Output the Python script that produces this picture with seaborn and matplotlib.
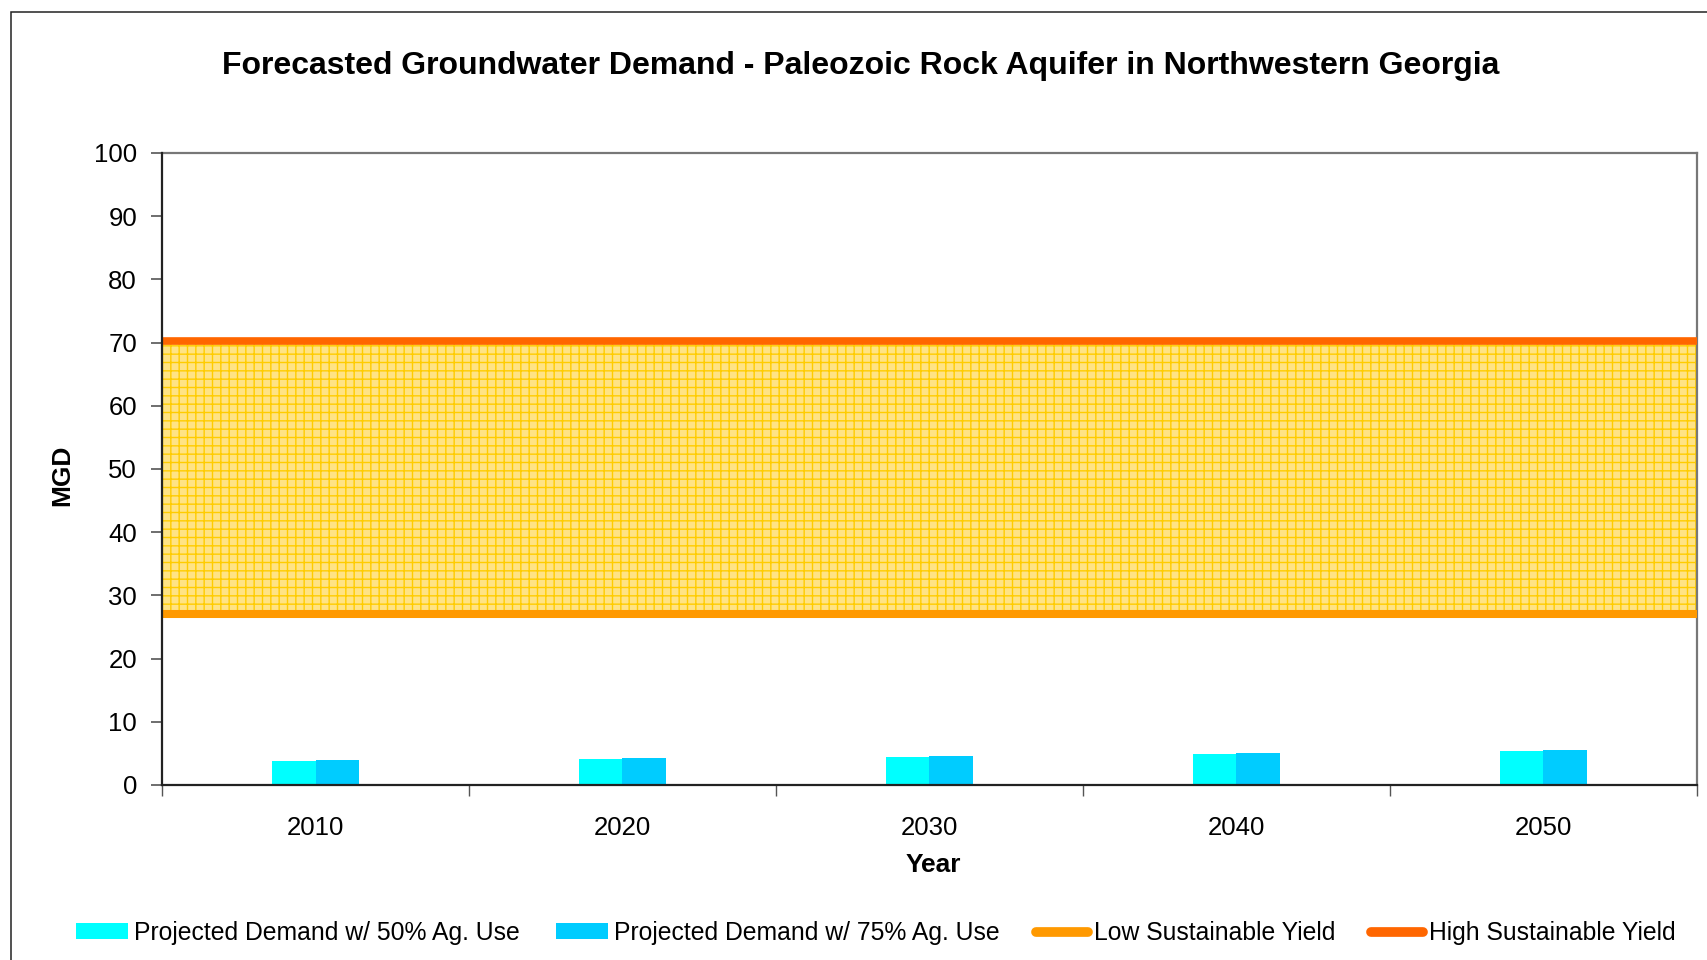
import numpy as np
import pandas as pd
import matplotlib
matplotlib.use("Agg")
import matplotlib.pyplot as plt
from matplotlib.patches import Rectangle, Patch
from matplotlib.lines import Line2D
import seaborn as sns

# ---- data ----
years = ["2010", "2020", "2030", "2040", "2050"]
demand_50 = [3.8, 4.1, 4.5, 4.9, 5.4]
demand_75 = [4.0, 4.3, 4.6, 5.0, 5.5]
low_yield = [27.0, 27.0, 27.0, 27.0, 27.0]
high_yield = [70.2, 70.2, 70.2, 70.2, 70.2]
series_names = ["Projected Demand w/ 50% Ag. Use", "Projected Demand w/ 75% Ag. Use"]
low_name = "Low Sustainable Yield"
high_name = "High Sustainable Yield"
yticks = list(range(0, 101, 10))
title = "Forecasted Groundwater Demand - Paleozoic Rock Aquifer in Northwestern Georgia"

# ---- style ----
sns.set_theme(style="white")
plt.rcParams["font.family"] = ["Liberation Sans", "DejaVu Sans"]
plt.rcParams["hatch.linewidth"] = 1.0
plt.rcParams["text.color"] = "black"
plt.rcParams["axes.labelcolor"] = "black"
plt.rcParams["xtick.color"] = "black"
plt.rcParams["ytick.color"] = "black"

W, H = 1707, 960
fig = plt.figure(figsize=(W / 100, H / 100), dpi=100)
ax = fig.add_axes([162 / W, 1 - 785 / H, (1697 - 162) / W, (785 - 153) / H])

df = pd.DataFrame({
    "Year": years * 2,
    "MGD": demand_50 + demand_75,
    "Series": [series_names[0]] * len(years) + [series_names[1]] * len(years),
})

c50, c75 = "#00FFFF", "#00CCFF"
c_low, c_high = "#FF9900", "#FF6600"

# yield band (drawn edge to edge across the category axis)
n = len(years)
xpos = np.concatenate([[-0.5], np.arange(n), [n - 0.5]])
low_ext = np.concatenate([[low_yield[0]], low_yield, [low_yield[-1]]])
high_ext = np.concatenate([[high_yield[0]], high_yield, [high_yield[-1]]])
ax.fill_between(xpos, low_ext, high_ext, facecolor="#FFE385", edgecolor="#FFCC00",
                hatch="++", linewidth=0, zorder=1)
ax.plot(xpos, low_ext, color=c_low, lw=5.8, solid_capstyle="butt", zorder=3)
ax.plot(xpos, high_ext, color=c_high, lw=5.5, solid_capstyle="butt", zorder=3)

sns.barplot(data=df, x="Year", y="MGD", hue="Series", palette=[c50, c75],
            width=0.286, saturation=1, dodge=True, ax=ax, legend=False, zorder=2,
            linewidth=0)

ax.set_xlim(-0.5, n - 0.5)
ax.set_ylim(0, 100)
ax.set_yticks(yticks)
ax.set_yticklabels([str(t) for t in yticks])
ax.set_xticks(range(n))
ax.set_xticklabels(years)
ax.set_xticks(np.arange(-0.5, n, 1.0), minor=True)
ax.tick_params(axis="x", which="major", length=0, pad=22, labelsize=18.5, labelcolor="black")
ax.tick_params(axis="x", which="minor", length=8, width=1, color="#555555", direction="out", bottom=True)
ax.tick_params(axis="y", which="major", length=8, width=1.2, color="#555555", direction="out",
               pad=10, labelsize=18.5, labelcolor="black", left=True)

for s in ["left", "bottom"]:
    ax.spines[s].set_color("#222222")
    ax.spines[s].set_linewidth(1.6)
for s in ["top", "right"]:
    ax.spines[s].set_color("#777777")
    ax.spines[s].set_linewidth(1.6)
ax.spines["left"].set_zorder(5)

ax.set_xlabel("Year", fontsize=19, fontweight="bold", va="center", color="black")
ax.set_ylabel("MGD", fontsize=19, fontweight="bold", va="center", color="black")
ax.xaxis.set_label_coords((933 - 162) / 1535, (785 - 865) / 632)
ax.yaxis.set_label_coords((62 - 162) / 1535, (785 - 475) / 632)

fig.text(861 / W, 1 - 66 / H, title, ha="center", va="center",
         fontsize=23, fontweight="bold", color="black")

handles = [
    Patch(facecolor=c50, edgecolor="none"),
    Patch(facecolor=c75, edgecolor="none"),
    Line2D([0], [0], color=c_low, lw=7, solid_capstyle="round"),
    Line2D([0], [0], color=c_high, lw=7, solid_capstyle="round"),
]
labels = series_names + [low_name, high_name]
fig.legend(handles, labels, loc="center", bbox_to_anchor=(876 / W, 1 - 933 / H), ncol=4,
           frameon=False, fontsize=17.8, handlelength=2.1, handleheight=0.6,
           handletextpad=0.25, columnspacing=1.45, borderaxespad=0, labelcolor="black")

fig.patches.append(Rectangle((11 / W, -0.05), 1.1, 1 - 12 / H + 0.05, transform=fig.transFigure,
                             fill=False, edgecolor="#222222", linewidth=1.1, zorder=0))

fig.savefig("out.png", dpi=100)
